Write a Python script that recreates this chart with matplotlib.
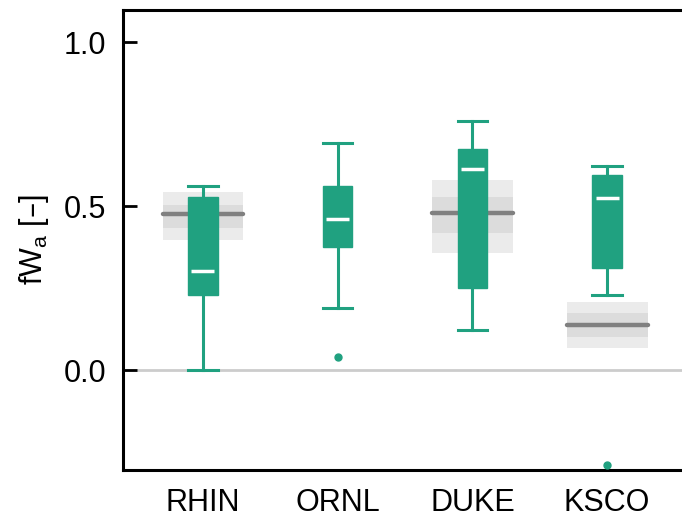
import numpy as np
import matplotlib.pyplot as plt

plt.rcParams['font.family'] = ['Liberation Sans', 'DejaVu Sans']
plt.rcParams['mathtext.default'] = 'regular'

# сайты
sites = ['RHIN', 'ORNL', 'DUKE', 'KSCO']

# статистика ящиков (наблюдения)
whis_lo = [0.0, 0.188, 0.122, 0.229]
q1 = [0.229, 0.376, 0.251, 0.310]
med = [0.302, 0.461, 0.613, 0.526]
q3 = [0.528, 0.562, 0.673, 0.595]
whis_hi = [0.561, 0.691, 0.760, 0.622]
fliers = [[], [0.039], [], [-0.29]]

# серые полосы (модель): медиана, внутренний и внешний диапазоны
band_med = [0.475, None, 0.478, 0.137]
band_in_lo = [0.433, None, 0.417, 0.102]
band_in_hi = [0.503, None, 0.528, 0.173]
band_out_lo = [0.396, None, 0.358, 0.066]
band_out_hi = [0.544, None, 0.579, 0.208]

green = '#20a180'
pos = np.arange(1, len(sites) + 1)

fig = plt.figure(figsize=(6.82, 5.22), dpi=100)
ax = fig.add_axes([0.1804, 0.0996, 0.827, 0.8812])

ax.axhline(0, color='#cccccc', lw=2, zorder=1)

bw = 0.6
for i, p in enumerate(pos):
    if band_med[i] is None:
        continue
    ax.fill_between([p - bw / 2, p + bw / 2], band_out_lo[i], band_out_hi[i],
                    color='#ebebeb', lw=0, zorder=2)
    ax.fill_between([p - bw / 2, p + bw / 2], band_in_lo[i], band_in_hi[i],
                    color='#dcdcdc', lw=0, zorder=2)
    ax.plot([p - bw / 2, p + bw / 2], [band_med[i]] * 2, color='#808080',
            lw=3.2, solid_capstyle='round', zorder=3)

stats = []
for i in range(len(sites)):
    stats.append(dict(whislo=whis_lo[i], q1=q1[i], med=med[i], q3=q3[i],
                      whishi=whis_hi[i], fliers=fliers[i]))

ax.bxp(stats, positions=pos, widths=0.22, patch_artist=True, showcaps=True,
       boxprops=dict(facecolor=green, edgecolor=green, lw=1),
       whiskerprops=dict(color=green, lw=2.2),
       capprops=dict(color=green, lw=2.2),
       medianprops=dict(color='white', lw=2.5),
       flierprops=dict(marker='o', markerfacecolor=green, markeredgecolor=green,
                       markersize=5),
       capwidths=0.22, zorder=4)

# укоротить медианы внутри ящика
for line in ax.lines:
    if line.get_color() == 'white':
        x = line.get_xdata()
        c = (x[0] + x[1]) / 2
        line.set_xdata([c - 0.085, c + 0.085])
        line.set_zorder(5)

ax.set_xlim(0.407, 4.593)
ax.set_ylim(-0.305, 1.098)
ax.set_yticks([0.0, 0.5, 1.0])
ax.set_yticklabels(['0.0', '0.5', '1.0'])
ax.set_xticks(pos)
ax.set_xticklabels(sites)
ax.tick_params(axis='y', direction='in', length=10, width=2, labelsize=22, pad=12)
ax.tick_params(axis='x', length=0, labelsize=22, pad=13)
ax.set_ylabel('fW$_{a}$ [–]', fontsize=22, labelpad=9)
for s in ax.spines.values():
    s.set_linewidth(2.2)

fig.savefig('out.png', dpi=100)
